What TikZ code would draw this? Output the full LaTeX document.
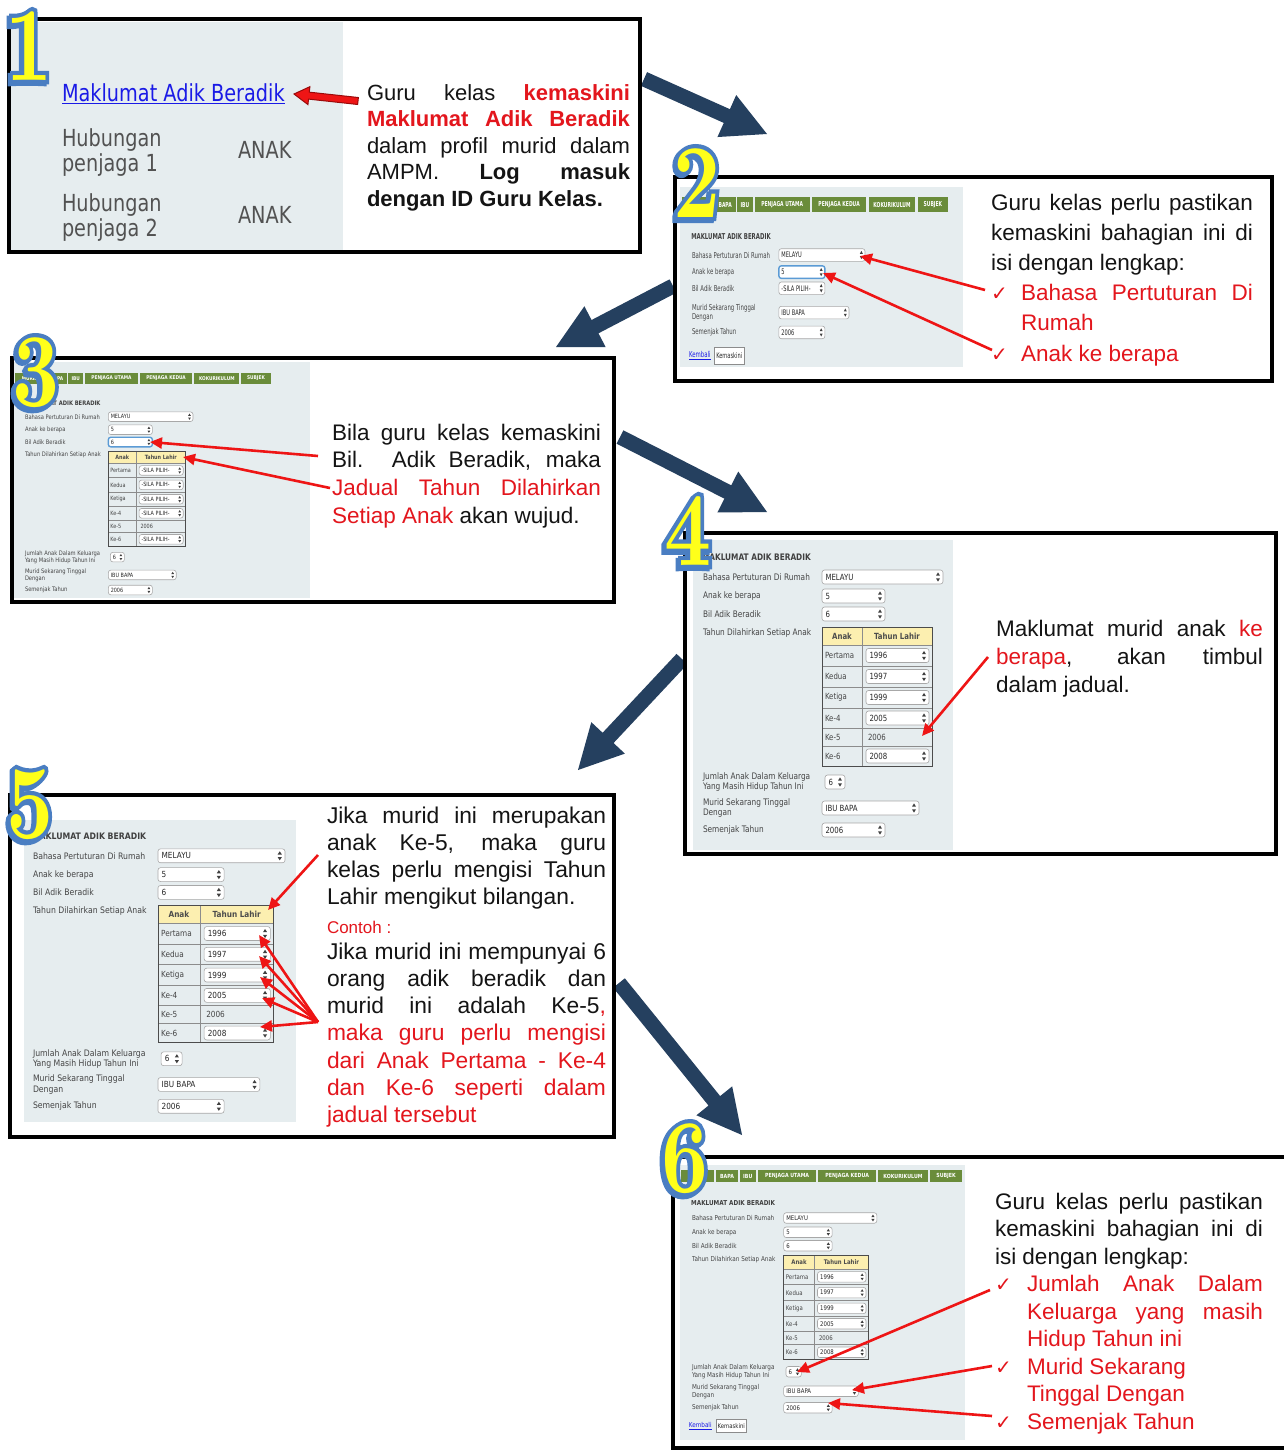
\documentclass[tikz,border=0pt]{standalone}
\usepackage{fontspec}
\newfontfamily\txtf{Liberation Sans}
\newfontfamily\shotf{DejaVu Sans}[FakeStretch=0.82]
\newfontfamily\chkf{DejaVu Sans}
\newfontfamily\digf{lmroman10-bold.otf}
\newfontfamily\digo{lmroman10-bold.otf}[FakeBold=8]
\usetikzlibrary{arrows.meta,calc}
\definecolor{navyc}{HTML}{25405F}
\definecolor{txtred}{HTML}{E3161D}
\definecolor{arrred}{HTML}{EE1515}
\definecolor{darkred}{HTML}{9A0A0A}
\definecolor{shotbgc}{HTML}{E6EDEF}
\definecolor{shottxt}{HTML}{454545}
\definecolor{tabg}{HTML}{6A8C3A}
\definecolor{hdry}{HTML}{FCEFB0}
\definecolor{fldb}{HTML}{A8A8A8}
\definecolor{focusb}{HTML}{5B9BD5}
\definecolor{linkb}{HTML}{1A1AE6}
\definecolor{digy}{HTML}{FFFF1A}
\definecolor{digb}{HTML}{4A7EC2}
\definecolor{txtk}{HTML}{141414}
\definecolor{spinc}{HTML}{404040}
\newcounter{nd}
\newcommand\tnode{\stepcounter{nd}\node (s\arabic{nd})}
\newcommand\jline[1]{\makebox[\linewidth][s]{#1}}
\newcommand\lline[1]{\makebox[\linewidth][l]{#1}}
\newcommand\rd[1]{\textcolor{txtred}{#1}}
\newcommand\ck[1]{\makebox[#1][l]{\chkf\fontsize{20}{20}\selectfont\textcolor{txtred}{✓}}}
\newcommand\spin[2]{\fill[spinc] (#1-2,#2-1.3) -- (#1+2,#2-1.3) -- (#1,#2-4.6) -- cycle;
  \fill[spinc] (#1-2,#2+1.3) -- (#1+2,#2+1.3) -- (#1,#2+4.6) -- cycle;}
\newcommand\fld[5][fieldbox]{\draw[#1] (#2,#4-7) rectangle (#3,#4+7);
  \tnode[fldtext, anchor=west] at (#2+3.5,#4) {#5};
  \spin{#3-5}{#4}}
\newcommand\tabx[3]{\fill[tabg] (#1,-44) rectangle (#2,-28);
  \tnode[tabtext] at ($(#1,-36)!0.5!(#2,-36)$) {#3};}
\newcommand\formtabs{\tabx{-14}{28}{MURID}\tabx{31}{60}{BAPA}\tabx{62}{83}{IBU}\tabx{86}{161}{PENJAGA UTAMA}\tabx{164}{239}{PENJAGA KEDUA}\tabx{242}{306}{KOKURIKULUM}\tabx{309}{351}{SUBJEK}}
\newcommand\formhead{\tnode[shotb, anchor=west] at (-1,0) {MAKLUMAT ADIK BERADIK};}
\newcommand\frow[2]{\tnode[shot, anchor=west] at (0,#1) {#2};}
\newcommand\formmain[6]{%
 \formhead
 \frow{20}{Bahasa Pertuturan Di Rumah}\fld{119}{240}{20}{MELAYU}
 \frow{39}{Anak ke berapa}\fld{119}{182}{39}{5}
 \frow{57}{Bil Adik Beradik}\fld[#1]{119}{182}{57}{6}
 \frow{76}{Tahun Dilahirkan Setiap Anak}
 \fill[hdry] (119,70) rectangle (229,88);
 \draw[tline] (159,70) -- (159,209) (119,88) -- (229,88) (119,109) -- (229,109) (119,130) -- (229,130) (119,151) -- (229,151) (119,171) -- (229,171) (119,189) -- (229,189);
 \draw[tbord] (119,70) rectangle (229,209);
 \tnode[cellb] at (139,79) {Anak};
 \tnode[cellb] at (194,79) {Tahun Lahir};
 \tnode[cell, anchor=west] at (122,98.5) {Pertama};\fld{163}{226}{98.5}{#2}
 \tnode[cell, anchor=west] at (122,119.5) {Kedua};\fld{163}{226}{119.5}{#3}
 \tnode[cell, anchor=west] at (122,140.5) {Ketiga};\fld{163}{226}{140.5}{#4}
 \tnode[cell, anchor=west] at (122,161) {Ke-4};\fld{163}{226}{161}{#5}
 \tnode[cell, anchor=west] at (122,180) {Ke-5};
 \tnode[cell, anchor=west] at (165,180) {2006};
 \tnode[cell, anchor=west] at (122,199) {Ke-6};\fld{163}{226}{199}{#6}
 \frow{225}{Jumlah Anak Dalam Keluarga\\Yang Masih Hidup Tahun Ini}\fld{122}{142}{225}{6}
 \frow{251}{Murid Sekarang Tinggal\\Dengan}\fld{119}{216}{251}{IBU BAPA}
 \frow{273}{Semenjak Tahun}\fld{119}{182}{273}{2006}}
\newcommand\formfoot[1]{\tnode[shot, text=linkb, anchor=west] at (-4,#1) {\underline{Kembali}};
 \draw[btnbox] (31,#1-9) rectangle (71,#1+9);
 \tnode[fldtext] at (51,#1) {Kemaskini};}
\newcommand\blockarrow[7]{%
 \coordinate (#4b) at ($(#3)!#6!(#2)$);
 \coordinate (#4tl) at ($(#2)!#5!90:(#3)$);
 \coordinate (#4tr) at ($(#2)!#5!-90:(#3)$);
 \coordinate (#4bl) at ($(#4b)!#5!90:(#3)$);
 \coordinate (#4br) at ($(#4b)!#5!-90:(#3)$);
 \coordinate (#4hl) at ($(#4b)!#7!90:(#3)$);
 \coordinate (#4hr) at ($(#4b)!#7!-90:(#3)$);
 \path[#1] (#4tl) -- (#4bl) -- (#4hl) -- (#3) -- (#4hr) -- (#4br) -- (#4tr) -- cycle;}
\newcommand\bigdigit[4]{%
 \node (#1s) [bigdig, font=\digo\fontsize{105}{105}\selectfont, text=digb] at ($(#2,#3)+(-2.5pt,-2pt)$) {#4};
 \node (#1o) [bigdig, font=\digo\fontsize{105}{105}\selectfont, text=digb] at (#2,#3) {#4};
 \node (#1) [bigdig, text=digy] at (#2,#3) {#4};}
\begin{document}
\begin{tikzpicture}[x=1pt,y=-1pt,
 every node/.style={inner sep=0pt,outer sep=0pt},
 shot/.style={font=\shotf\fontsize{9}{10.5}\selectfont, text=shottxt, align=left},
 shotb/.style={font=\shotf\bfseries\fontsize{9}{10.5}\selectfont, text=black!75},
 fldtext/.style={font=\shotf\fontsize{8.5}{10}\selectfont, text=black!85},
 cell/.style={font=\shotf\fontsize{8.5}{10}\selectfont, text=shottxt},
 cellb/.style={font=\shotf\bfseries\fontsize{8.5}{10}\selectfont, text=black!70},
 tabtext/.style={font=\shotf\bfseries\fontsize{7.5}{8}\selectfont, text=white},
 fieldbox/.style={draw=fldb, fill=white, rounded corners=2.5pt, line width=0.6pt},
 focusbox/.style={draw=focusb, fill=white, rounded corners=2.5pt, line width=1.4pt},
 btnbox/.style={draw=black!45, fill=white, line width=0.6pt},
 tline/.style={draw=black!45, line width=0.6pt},
 tbord/.style={draw=black!70, line width=0.9pt},
 panel/.style={draw=black, line width=4.5pt, fill=white},
 ptext/.style={font=\txtf, text=txtk, anchor=base west},
 p1s/.style={font=\shotf\fontsize{23.5}{26}\selectfont, text=black!68, anchor=base west},
 redarrow/.style={draw=arrred, line width=2.6pt, -{Triangle[length=12pt,width=11pt]}},
 navyfill/.style={fill=navyc},
 p1arrow/.style={fill=arrred, draw=darkred, line width=1pt},
 bigdig/.style={font=\digf\fontsize{105}{105}\selectfont, xscale=0.78, anchor=base}]
\fill[white] (0,0) rectangle (1283,1451);
\useasboundingbox (0,0) rectangle (1283,1451);
% big navy arrows
\coordinate (a1t) at (644,79); \coordinate (a1h) at (767,134);
\coordinate (a2t) at (673,286); \coordinate (a2h) at (556,347);
\coordinate (a3t) at (620,437); \coordinate (a3h) at (767,512);
\coordinate (a4t) at (682,659); \coordinate (a4h) at (578,770);
\coordinate (a5t) at (619,983); \coordinate (a5h) at (742,1135);
\blockarrow{navyfill}{a1t}{a1h}{A1}{7.5pt}{44pt}{23pt}
\blockarrow{navyfill}{a2t}{a2h}{A2}{7.5pt}{44pt}{23pt}
\blockarrow{navyfill}{a3t}{a3h}{A3}{7.5pt}{44pt}{23pt}
\blockarrow{navyfill}{a4t}{a4h}{A4}{7.5pt}{44pt}{23pt}
\blockarrow{navyfill}{a5t}{a5h}{A5}{7.5pt}{44pt}{23pt}
% panels
\draw[panel] (9,19) rectangle (640,252);
\draw[panel] (675,177) rectangle (1272,381);
\draw[panel] (12,358) rectangle (614,602);
\draw[panel] (685,533) rectangle (1276,854);
\draw[panel] (10,795) rectangle (614,1137);
\draw[panel] (673,1157) rectangle (1295,1448);
% screenshot backgrounds
\fill[shotbgc] (11,22) rectangle (343,250);
\fill[shotbgc] (680,187) rectangle (963,367);
\fill[shotbgc] (14,362) rectangle (310,598);
\fill[shotbgc] (693,540) rectangle (953,850);
\fill[shotbgc] (24,820) rectangle (296,1122);
\fill[shotbgc] (680,1165) rectangle (965,1440);
% panel 1 screenshot
\tnode[p1s, text=linkb] at (62,101) {\underline{Maklumat Adik Beradik}};
\tnode[p1s] at (62,146) {Hubungan};
\tnode[p1s] at (62,171) {penjaga 1};
\tnode[p1s] at (238,158) {ANAK};
\tnode[p1s] at (62,211) {Hubungan};
\tnode[p1s] at (62,236) {penjaga 2};
\tnode[p1s] at (238,223) {ANAK};
% panel 2 screenshot
\begin{scope}[shift={(692,237)}, xscale=0.73, yscale=0.9, transform shape]
 \formtabs \formhead
 \frow{20}{Bahasa Pertuturan Di Rumah}\fld{119}{237}{20}{MELAYU}
 \frow{39}{Anak ke berapa}\fld[focusbox]{119}{182}{39}{5}
 \frow{57}{Bil Adik Beradik}\fld{119}{182}{57}{-SILA PILIH-}
 \frow{84}{Murid Sekarang Tinggal\\Dengan}\fld{119}{215}{84}{IBU BAPA}
 \frow{106}{Semenjak Tahun}\fld{119}{182}{106}{2006}
 \formfoot{132}
\end{scope}
% panel 3 screenshot
\begin{scope}[shift={(25,403)}, xscale=0.70, yscale=0.685, transform shape]
 \formtabs
 \formmain{focusbox}{-SILA PILIH-}{-SILA PILIH-}{-SILA PILIH-}{-SILA PILIH-}{-SILA PILIH-}
\end{scope}
% panel 4 screenshot
\begin{scope}[shift={(703,557)}, transform shape]
 \formmain{fieldbox}{1996}{1997}{1999}{2005}{2008}
\end{scope}
% panel 5 screenshot
\begin{scope}[shift={(33,836)}, xscale=1.05, yscale=0.99, transform shape]
 \formmain{fieldbox}{1996}{1997}{1999}{2005}{2008}
\end{scope}
% panel 6 screenshot
\begin{scope}[shift={(692,1203)}, xscale=0.77, yscale=0.75, transform shape]
 \formtabs
 \formmain{fieldbox}{1996}{1997}{1999}{2005}{2008}
 \formfoot{297}
\end{scope}
% panel texts
\node (t1) [ptext] at (367,100) {\parbox[t]{263pt}{\fontsize{22}{26.5}\selectfont
\jline{Guru kelas \rd{\bfseries kemaskini}}\\
\jline{\rd{\bfseries Maklumat Adik Beradik}}\\
\jline{dalam profil murid dalam}\\
\jline{AMPM. \bfseries Log masuk}\\
\lline{\bfseries dengan ID Guru Kelas.}}};
\node (t2) [ptext] at (991,210) {\parbox[t]{262pt}{\fontsize{22.5}{30.2}\selectfont
\jline{Guru kelas perlu pastikan}\\
\jline{kemaskini bahagian ini di}\\
\lline{isi dengan lengkap:}\\
\ck{30pt}\makebox[232pt][s]{\rd{Bahasa Pertuturan Di}}\\
\hspace*{30pt}\rd{Rumah}\\
\ck{30pt}\rd{Anak ke berapa}}};
\node (t3) [ptext] at (332,440) {\parbox[t]{269pt}{\fontsize{22.5}{27.7}\selectfont
\jline{Bila guru kelas kemaskini}\\
\jline{Bil. Adik Beradik, maka}\\
\jline{\rd{Jadual Tahun Dilahirkan}}\\
\lline{\rd{Setiap Anak} akan wujud.}}};
\node (t4) [ptext] at (996,636) {\parbox[t]{267pt}{\fontsize{22.5}{28}\selectfont
\jline{Maklumat murid anak \rd{ke}}\\
\jline{\rd{berapa}, akan timbul}\\
\lline{dalam jadual.}}};
\node (t5a) [ptext] at (327,823) {\parbox[t]{279pt}{\fontsize{22.8}{27.3}\selectfont
\jline{Jika murid ini merupakan}\\
\jline{anak Ke-5, maka guru}\\
\jline{kelas perlu mengisi Tahun}\\
\lline{Lahir mengikut bilangan.}}};
\node (t5b) [ptext, text=txtred] at (327,933) {\fontsize{17}{20}\selectfont Contoh :};
\node (t5c) [ptext] at (327,959) {\parbox[t]{279pt}{\fontsize{22.8}{27.3}\selectfont
\jline{Jika murid ini mempunyai 6}\\
\jline{orang adik beradik dan}\\
\jline{murid ini adalah Ke-5\rd{,}}\\
\jline{\rd{maka guru perlu mengisi}}\\
\jline{\rd{dari Anak Pertama - Ke-4}}\\
\jline{\rd{dan Ke-6 seperti dalam}}\\
\lline{\rd{jadual tersebut}}}};
\node (t6) [ptext] at (995,1209) {\parbox[t]{268pt}{\fontsize{22.5}{27.5}\selectfont
\jline{Guru kelas perlu pastikan}\\
\jline{kemaskini bahagian ini di}\\
\lline{isi dengan lengkap:}\\
\ck{32pt}\makebox[236pt][s]{\rd{Jumlah Anak Dalam}}\\
\hspace*{32pt}\makebox[236pt][s]{\rd{Keluarga yang masih}}\\
\hspace*{32pt}\rd{Hidup Tahun ini}\\
\ck{32pt}\rd{Murid Sekarang}\\
\hspace*{32pt}\rd{Tinggal Dengan}\\
\ck{32pt}\rd{Semenjak Tahun}}};
% red arrows
\coordinate (r1t) at (358,101); \coordinate (r1h) at (294,94);
\blockarrow{p1arrow}{r1t}{r1h}{R1}{3.5pt}{15pt}{9pt}
\coordinate (r2a) at (985,290); \coordinate (r2ah) at (860,256);
\coordinate (r2b) at (992,350); \coordinate (r2bh) at (823,273);
\draw[redarrow] (r2a) -- (r2ah);
\draw[redarrow] (r2b) -- (r2bh);
\coordinate (r3a) at (318,456); \coordinate (r3ah) at (150,442);
\coordinate (r3b) at (330,488); \coordinate (r3bh) at (183,457);
\draw[redarrow] (r3a) -- (r3ah);
\draw[redarrow] (r3b) -- (r3bh);
\coordinate (r4a) at (988,657); \coordinate (r4ah) at (922,736);
\draw[redarrow] (r4a) -- (r4ah);
\coordinate (r5a) at (318,855); \coordinate (r5ah) at (268,910);
\draw[redarrow] (r5a) -- (r5ah);
\coordinate (r5b) at (318,1022);
\coordinate (r5b1) at (259,935); \coordinate (r5b2) at (259,956);
\coordinate (r5b3) at (260,977); \coordinate (r5b4) at (262,998);
\coordinate (r5b5) at (260,1027);
\foreach \k in {1,...,5}{\draw[redarrow] (r5b) -- (r5b\k);}
\coordinate (r6a) at (990,1290); \coordinate (r6ah) at (797,1372);
\coordinate (r6b) at (992,1366); \coordinate (r6bh) at (852,1390);
\coordinate (r6c) at (992,1416); \coordinate (r6ch) at (828,1403);
\draw[redarrow] (r6a) -- (r6ah);
\draw[redarrow] (r6b) -- (r6bh);
\draw[redarrow] (r6c) -- (r6ch);
% step digits
\bigdigit{d1}{29}{80}{1}
\bigdigit{d2}{697}{217}{2}
\bigdigit{d3}{36}{406}{3}
\bigdigit{d4}{688}{565}{4}
\bigdigit{d5}{30}{838}{5}
\bigdigit{d6}{685}{1192}{6}
\end{tikzpicture}
\end{document}
